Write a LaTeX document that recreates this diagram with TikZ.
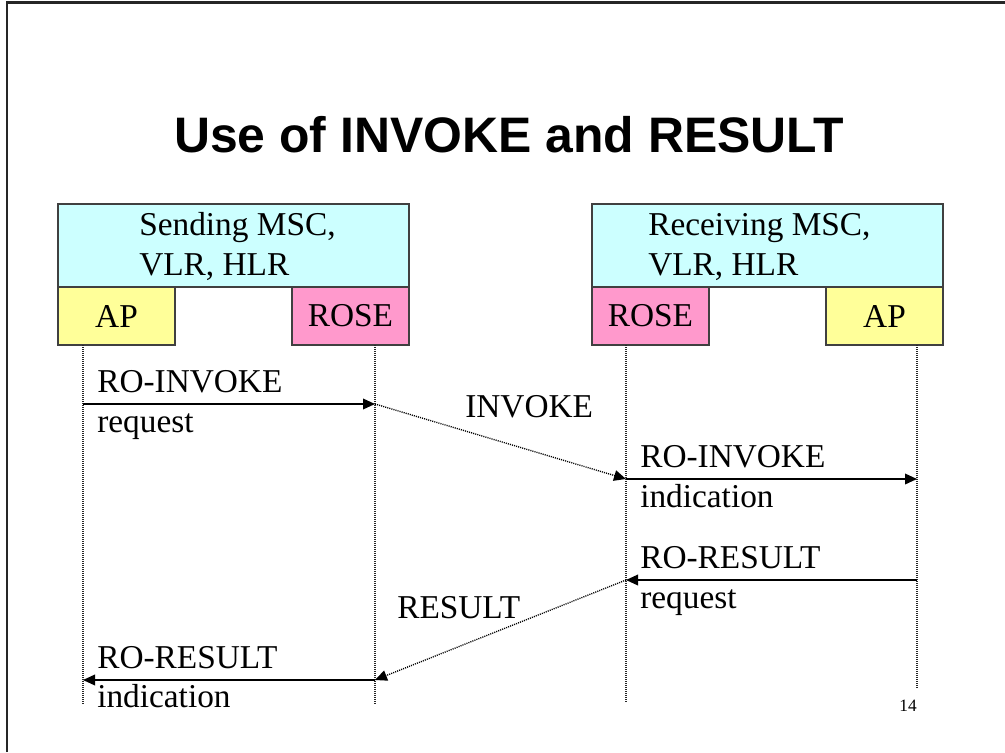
\documentclass[tikz,border=0pt]{standalone}
\usepackage{fontspec}
\setmainfont{Liberation Serif}
\newfontfamily\headfont{Liberation Sans}
\usetikzlibrary{arrows.meta}
\definecolor{entitycyan}{HTML}{CCFFFF}
\definecolor{apyellow}{HTML}{FFFF99}
\definecolor{rosepink}{HTML}{FF99CC}
\begin{document}
\begin{tikzpicture}[x=0.75pt,y=-0.75pt,
  entity/.style={draw=black!75, line width=0.8pt, fill=entitycyan, inner sep=0pt, outer sep=0pt,
    anchor=north west, minimum width=263.25pt, minimum height=62.25pt},
  layer/.style={draw=black!75, line width=0.8pt, inner sep=0pt, outer sep=0pt, anchor=north west,
    minimum width=87.75pt, minimum height=43.5pt, font=\fontsize{25}{30}\selectfont},
  lbl/.style={anchor=base west, inner sep=0pt, font=\fontsize{25}{30}\selectfont},
  lifeline/.style={line width=0.8pt, dash pattern=on 0.75pt off 0.75pt, black!85},
  msg/.style={line width=1.1pt, -{Triangle[length=9pt,width=8pt]}},
  net/.style={line width=1pt, dash pattern=on 0.8pt off 0.8pt, -{Triangle[length=9pt,width=8pt]}},
]
\useasboundingbox (0,0) rectangle (1005,752);

% slide frame
\draw[line width=1.6pt, black!85] (7,752) -- (7,2.5) -- (1005,2.5);

% heading
\node[anchor=base, inner sep=0pt, font=\headfont\bfseries\fontsize{37.4}{42}\selectfont]
  (title) at (509,153) {Use of INVOKE and RESULT};

% sending side
\node[entity] (sendbox) at (58,204) {};
\node[lbl] (send1) at (139,235) {Sending MSC,};
\node[lbl] (send2) at (139,275) {VLR, HLR};
\node[layer, fill=apyellow] (apL) at (58,287) {AP};
\node[layer, fill=rosepink] (roseL) at (292,287) {ROSE};

% receiving side
\node[entity] (recvbox) at (592,204) {};
\node[lbl] (recv1) at (648,235) {Receiving MSC,};
\node[lbl] (recv2) at (648,275) {VLR, HLR};
\node[layer, fill=rosepink] (roseR) at (592,287) {ROSE};
\node[layer, fill=apyellow] (apR) at (826,287) {AP};

% lifeline ends
\coordinate (endApL) at (83,705);
\coordinate (endRoseL) at (375,705);
\coordinate (endRoseR) at (626,703);
\coordinate (endApR) at (917,688);

\draw[lifeline] (apL.south -| endApL) -- (endApL);
\draw[lifeline] (roseL.south -| endRoseL) -- (endRoseL);
\draw[lifeline] (roseR.south -| endRoseR) -- (endRoseR);
\draw[lifeline] (apR.south -| endApR) -- (endApR);

% message points on the lifelines
\coordinate (m1a) at (83,404);
\coordinate (m1b) at (375,404);
\coordinate (m2b) at (626,479);
\coordinate (m3b) at (917,479);
\coordinate (m4a) at (917,580);
\coordinate (m4b) at (626,580);
\coordinate (m5b) at (375,680);
\coordinate (m6b) at (83,680);

% messages
\draw[msg] (m1a) -- (m1b);
\draw[net] (m1b) -- (m2b);
\draw[msg] (m2b) -- (m3b);
\draw[msg] (m4a) -- (m4b);
\draw[net] (m4b) -- (m5b);
\draw[msg] (m5b) -- (m6b);

% message labels
\node[lbl] (l1a) at (97,392) {RO-INVOKE};
\node[lbl] (l1b) at (97,432) {request};
\node[lbl] (l2) at (465,417) {INVOKE};
\node[lbl] (l3a) at (640,467) {RO-INVOKE};
\node[lbl] (l3b) at (640,507) {indication};
\node[lbl] (l4a) at (640,568) {RO-RESULT};
\node[lbl] (l4b) at (640,608) {request};
\node[lbl] (l5) at (397,618) {RESULT};
\node[lbl] (l6a) at (97,668) {RO-RESULT};
\node[lbl] (l6b) at (97,707) {indication};

% page number
\node[anchor=base, inner sep=0pt, font=\fontsize{13}{15}\selectfont] (pageno) at (908,711) {14};
\end{tikzpicture}
\end{document}
